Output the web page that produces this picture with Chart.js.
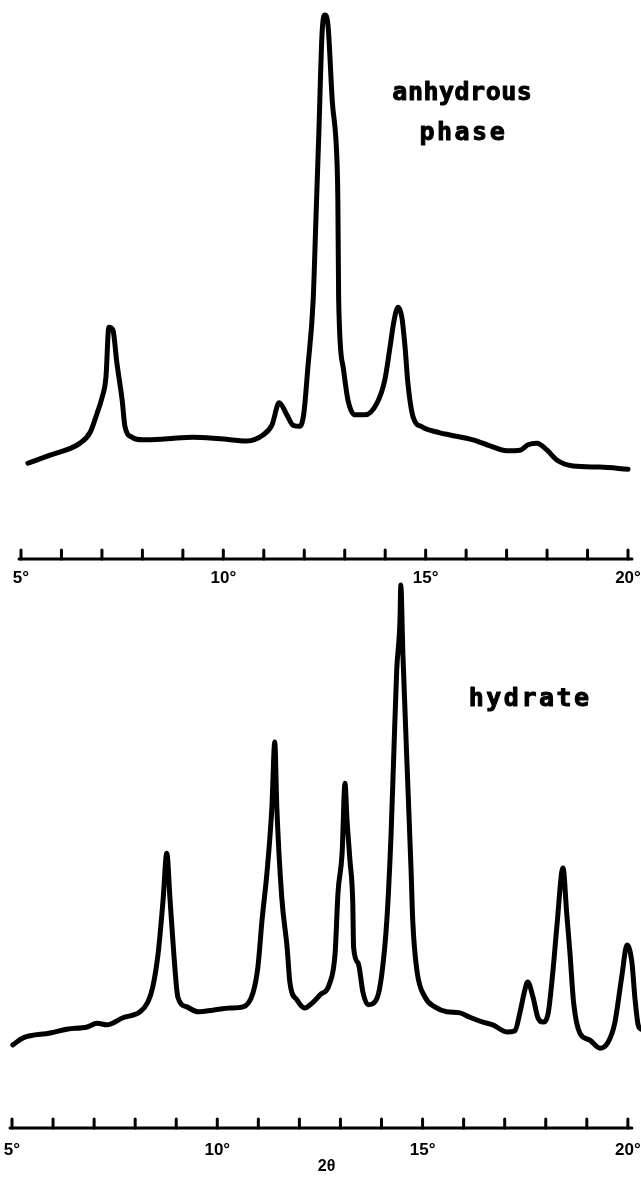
<!DOCTYPE html>
<html>
<head>
<meta charset="utf-8">
<title>X-ray powder diffraction patterns</title>
<script src="https://cdn.jsdelivr.net/npm/chart.js@4.4.1/dist/chart.umd.min.js"></script>
<style>
  html, body { margin: 0; padding: 0; background: #fff; }
  body { width: 641px; height: 1189px; position: relative; overflow: hidden; }
  .panel { position: absolute; left: 0; width: 641px; }
  #topPanel { top: 0; height: 600px; }
  #bottomPanel { top: 570px; height: 619px; }
</style>
</head>
<body>
<div class="panel" id="topPanel"><canvas id="anhydrousChart"></canvas></div>
<div class="panel" id="bottomPanel"><canvas id="hydrateChart"></canvas></div>
<script>
// 2θ range of the scale and the labelled ticks
const twoThetaMin = 5;
const twoThetaMax = 20;
const labelledTicks = [5, 10, 15, 20];
// the hydrate trace runs a little past the last tick
const hydrateScanEnd = 20.32;

// Anhydrous phase: 2θ (degrees) and relative intensity (strongest peak = 100)
const anhydrousTwoTheta = [
  5.17, 5.72, 6.46, 6.71, 6.88, 7.00, 7.10, 7.17, 7.27, 7.37, 7.50, 7.57, 7.74,
  8.02, 8.61, 9.25, 9.92, 10.58, 10.98, 11.20, 11.38, 11.57, 11.72, 11.89, 11.99,
  12.09, 12.22, 12.29, 12.36, 12.44, 12.51, 12.59, 12.69, 12.81, 12.83, 12.85,
  12.96, 13.08, 13.25, 13.50, 13.80, 13.99, 14.12, 14.22, 14.32, 14.41, 14.49,
  14.56, 14.69, 14.91, 15.35, 15.60, 16.17, 16.59, 17.01, 17.33, 17.53, 17.75,
  18.00, 18.24, 18.64, 19.31, 20.00
];
const anhydrousIntensity = [
  17.6, 19.1, 21.3, 23.3, 26.8, 29.6, 33.5, 42.6, 42.1, 36.0, 29.2, 24.3, 22.4,
  21.9, 22.1, 22.4, 22.1, 21.7, 22.8, 24.6, 28.7, 26.5, 24.6, 24.4, 26.8,
  35.3, 47.6, 62.9, 78.3, 96.7, 100.0, 97.8, 84.4, 72.8, 66.0, 47.6,
  35.3, 29.2, 26.5, 26.5, 28.7, 32.9, 39.0, 43.9, 46.3, 44.5, 39.0,
  32.4, 26.1, 24.3, 23.2, 22.8, 21.9, 20.8, 19.9, 20.0, 21.0, 21.3,
  20.0, 18.2, 17.1, 16.9, 16.5
];

// Hydrate: 2θ (degrees) and relative intensity (strongest peak = 100)
const hydrateTwoTheta = [
  5.02, 5.27, 5.93, 6.34, 6.83, 7.07, 7.31, 7.70, 8.12, 8.31, 8.43, 8.56, 8.68,
  8.77, 8.85, 8.94, 9.04, 9.26, 9.53, 9.89, 10.31, 10.63, 10.87, 10.99, 11.09,
  11.21, 11.33, 11.40, 11.45, 11.57, 11.70, 11.77, 11.94, 12.13, 12.31, 12.50,
  12.74, 12.87, 12.94, 13.04, 13.11, 13.16, 13.23, 13.30, 13.32, 13.43, 13.55,
  13.67, 13.89, 14.01, 14.13, 14.23, 14.30, 14.37, 14.45, 14.47, 14.52, 14.62,
  14.72, 14.76, 14.86, 15.06, 15.30, 15.59, 15.91, 16.15, 16.47, 16.71, 17.05,
  17.25, 17.37, 17.49, 17.56, 17.69, 17.81, 17.93, 18.05, 18.17, 18.27, 18.42,
  18.51, 18.59, 18.68, 18.83, 19.07, 19.32, 19.51, 19.68, 19.85, 19.98, 20.10,
  20.17, 20.25, 20.32
];
const hydrateIntensity = [
  15.3, 16.6, 17.5, 18.2, 18.6, 19.3, 19.0, 20.3, 21.4, 23.2, 26.0, 32.2, 42.0,
  50.6, 42.0, 32.2, 24.1, 22.3, 21.4, 21.7, 22.1, 22.3, 24.9, 29.7, 38.3,
  47.0, 59.1, 71.1, 59.1, 42.5, 33.3, 26.7, 23.6, 22.1, 23.0, 24.5,
  26.7, 32.2, 43.3, 50.6, 63.5, 56.7, 49.4, 41.4, 33.3, 30.4, 24.9,
  22.7, 23.9, 28.5, 38.3, 53.6, 69.1, 84.3, 93.6, 100.0, 87.5, 67.2,
  47.5, 38.3, 29.1, 24.1, 22.3, 21.4, 21.2, 20.4, 19.5, 19.0, 17.7,
  17.9, 21.2, 25.4, 26.9, 24.1, 20.3, 19.5, 20.8, 28.5, 37.0, 47.9,
  39.6, 32.2, 23.0, 17.5, 16.2, 14.7, 15.7, 19.3, 27.8, 33.7, 30.4,
  24.1, 19.0, 18.2
];

const toPoints = (xs, ys) => xs.map((x, i) => ({ x, y: ys[i] }));

// Axis rule from 5° to 20° with short upward tick marks, one per degree
const twoThetaRule = {
  id: 'twoThetaRule',
  afterDraw(chart) {
    const scale = chart.scales.x;
    const ctx = chart.ctx;
    const y0 = scale.top;
    ctx.save();
    ctx.strokeStyle = '#000';
    ctx.lineCap = 'round';
    ctx.lineWidth = 3;
    ctx.beginPath();
    ctx.moveTo(scale.getPixelForValue(twoThetaMin) - 2, y0);
    ctx.lineTo(scale.getPixelForValue(twoThetaMax) + 4, y0);
    ctx.stroke();
    scale.ticks.forEach(t => {
      const px = scale.getPixelForValue(t.value);
      ctx.beginPath();
      ctx.moveTo(px, y0);
      ctx.lineTo(px, y0 - 9);
      ctx.stroke();
    });
    ctx.restore();
  }
};

// Phase name written inside the plot, anchored in data coordinates
const phaseLabel = {
  id: 'phaseLabel',
  afterDraw(chart, args, opts) {
    if (!opts.lines) return;
    const ctx = chart.ctx;
    const xs = chart.scales.x, ys = chart.scales.y;
    ctx.save();
    ctx.fillStyle = '#000';
    ctx.strokeStyle = '#000';
    ctx.lineWidth = 1;
    ctx.lineJoin = 'round';
    ctx.font = 'bold 25px "DejaVu Sans Mono", monospace';
    ctx.textAlign = 'center';
    ctx.textBaseline = 'alphabetic';
    opts.lines.forEach(l => {
      const sp = l.spacing || 0;
      ctx.letterSpacing = sp + 'px';
      const px = xs.getPixelForValue(l.x) + sp / 2;
      const py = ys.getPixelForValue(l.y);
      ctx.fillText(l.text, px, py);
      ctx.strokeText(l.text, px, py);
    });
    ctx.restore();
  }
};

function makeChart(canvasId, points, opts) {
  return new Chart(document.getElementById(canvasId), {
    type: 'line',
    data: {
      datasets: [{
        data: points,
        borderColor: '#000',
        borderWidth: 5,
        pointRadius: 0,
        fill: false,
        cubicInterpolationMode: 'monotone',
        borderJoinStyle: 'round',
        borderCapStyle: 'round',
        clip: false
      }]
    },
    options: {
      responsive: true,
      maintainAspectRatio: false,
      animation: false,
      events: [],
      layout: { padding: opts.padding },
      plugins: {
        legend: { display: false },
        tooltip: { enabled: false },
        phaseLabel: { lines: opts.lines }
      },
      scales: {
        x: {
          type: 'linear',
          min: twoThetaMin,
          max: opts.xMax,
          afterFit: s => { s.height = opts.axisHeight; },
          grid: {
            display: true,
            drawOnChartArea: false,
            drawTicks: true,
            tickLength: opts.labelGap,
            tickColor: 'rgba(0,0,0,0)'
          },
          border: { display: false },
          ticks: {
            stepSize: 1,
            includeBounds: false,
            autoSkip: false,
            maxRotation: 0,
            padding: 0,
            color: '#000',
            font: { family: '"Liberation Sans", Arial, sans-serif', weight: 'bold', size: 17 },
            callback: v => labelledTicks.includes(v) ? v + '°' : ''
          },
          title: opts.title
        },
        y: { display: false, min: 0, max: 100 }
      }
    },
    plugins: [twoThetaRule, phaseLabel]
  });
}

makeChart('anhydrousChart', toPoints(anhydrousTwoTheta, anhydrousIntensity), {
  padding: { left: 21, right: 13, top: 15, bottom: 0 },
  xMax: twoThetaMax,
  axisHeight: 41,
  labelGap: 9,
  title: { display: false },
  lines: [
    { text: 'anhydrous', x: 15.9, y: 84.4, spacing: 0.5 },
    { text: 'phase', x: 15.9, y: 77.0, spacing: 2.5 }
  ]
});

makeChart('hydrateChart', toPoints(hydrateTwoTheta, hydrateIntensity), {
  padding: { left: 12, right: 0, top: 15, bottom: 0 },
  xMax: hydrateScanEnd,
  axisHeight: 61,
  labelGap: 12,
  title: {
    display: true,
    text: '2θ',
    color: '#000',
    align: 'center',
    font: { family: '"Liberation Sans", Arial, sans-serif', weight: 'bold', size: 16 },
    padding: { top: 0, bottom: 13 }
  },
  lines: [
    { text: 'hydrate', x: 17.59, y: 77.7, spacing: 2.5 }
  ]
});
</script>
</body>
</html>
